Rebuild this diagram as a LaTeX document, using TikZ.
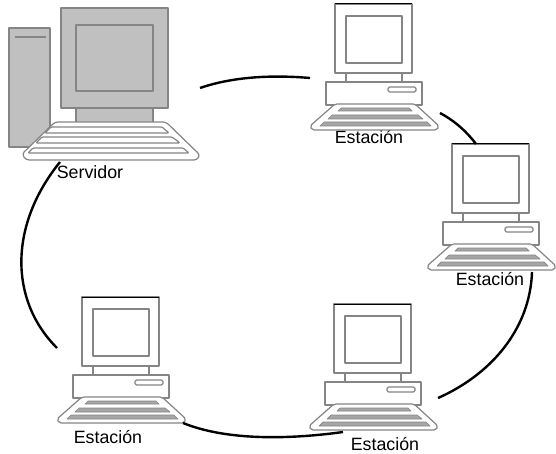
\documentclass[tikz,border=0pt]{standalone}
\usepackage{fontspec}
\setmainfont{Liberation Sans}
\definecolor{edgegray}{HTML}{858585}
\definecolor{fillgray}{HTML}{C0C0C0}
\definecolor{keygray}{HTML}{A6A6A6}
\tikzset{
  part/.style={draw=edgegray,line width=1.2pt,fill=white,line join=round},
  srv/.style={draw=edgegray,line width=1.2pt,fill=fillgray,line join=round},
  keybar/.style={draw=edgegray,line width=.7pt,fill=keygray,line join=round},
  link/.style={draw=black,line width=2.4pt},
  lab/.style={font=\fontsize{17.8}{20}\selectfont,inner sep=0pt,text=black},
  station/.pic={
    \path[part] (0,0) rectangle (77,69);
    \path[part] (11,12) rectangle (67,59);
    \path[part] (11,69) -- (11,78) (67,69) -- (67,78);
    \path[part] (-9,78) rectangle (87,101);
    \path[part,rounded corners=1.5pt] (53,83) rectangle (81,88);
    \path[part,rounded corners=2pt] (0,100) -- (80,100) -- (104,122) -- (102,126) -- (-23,126) -- (-25,122) -- cycle;
    \path[keybar] (6,104) -- (74,104) -- (77,107) -- (3,107) -- cycle;
    \path[keybar] (-3,111) -- (83,111) -- (88,115) -- (-7,115) -- cycle;
    \path[keybar] (-11,118) -- (92,118) -- (96,122) -- (-15,122) -- cycle;
    \draw[black,line width=1pt] (0,0) -- (77,0);
  },
}
\begin{document}
\begin{tikzpicture}[x=1pt,y=-1pt]
\useasboundingbox (0,0) rectangle (556,454);
% label overlapped by its keyboard
\node[lab] (l1) at (369,137) {Estación};
% server
\path[srv] (9,28) rectangle (50,147);
\path[draw=edgegray,line width=2pt] (15,37) -- (46,37);
\path[srv] (61,8) rectangle (168,108);
\path[srv] (76,25) rectangle (153,91);
\path[srv] (76,108) rectangle (153,123);
\path[part,rounded corners=3pt] (55,122) -- (166,122) -- (200,155) -- (197,160) -- (26,160) -- (22,154) -- cycle;
\path[part,rounded corners=1pt] (51,127) -- (162,127) -- (169,133) -- (45,133) -- cycle;
\path[part,rounded corners=1pt] (42,137) -- (172,137) -- (180,143) -- (36,143) -- cycle;
\path[part,rounded corners=1pt] (33,148) -- (183,148) -- (189,153) -- (28,153) -- cycle;
% stations
\pic (s1) at (335,4) {station};
\pic (s2) at (452,144) {station};
\pic (s3) at (334,304) {station};
\pic (s4) at (82,297) {station};
% connector ends
\coordinate (a1) at (200,88);
\coordinate (a2) at (310,78);
\coordinate (b1) at (440,113);
\coordinate (b2) at (476,144);
\coordinate (c1) at (532,272);
\coordinate (c2) at (438,398);
\coordinate (d1) at (343,432);
\coordinate (d2) at (183,423);
\coordinate (e1) at (60,162);
\coordinate (e2) at (57,348);
\draw[link] (a1) .. controls (235,76) and (275,75) .. (a2);
\draw[link] (b1) .. controls (455,121) and (467,132) .. (b2);
\draw[link] (c1) .. controls (530,330) and (490,375) .. (c2);
\draw[link] (d1) .. controls (285,440) and (225,440) .. (d2);
\draw[link] (e1) .. controls (9,225) and (9,300) .. (e2);
% labels
\node[lab] (lserv) at (90,172) {Servidor};
\node[lab] (l2) at (490,279) {Estación};
\node[lab] (l3) at (385,444) {Estación};
\node[lab] (l4) at (108,437) {Estación};
\end{tikzpicture}
\end{document}
